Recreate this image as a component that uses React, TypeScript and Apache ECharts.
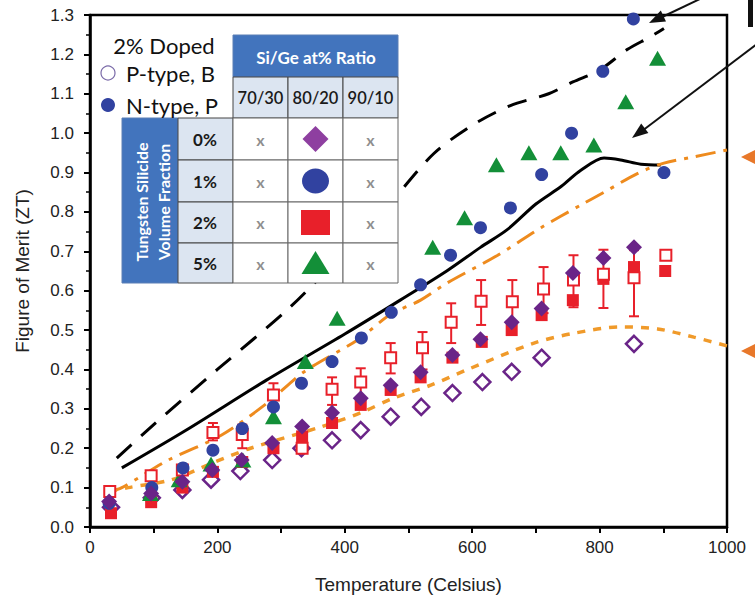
import React, { useEffect, useRef } from "react";
import * as echarts from "echarts";

// ---- data (Temperature in Celsius, ZT) ----
const pB0Temps = [33, 97, 145, 190, 236, 286, 332, 380, 425, 472, 520, 569, 616, 662, 709, 854];
const pB0ZT = [0.05, 0.074, 0.094, 0.12, 0.142, 0.17, 0.2, 0.22, 0.246, 0.28, 0.305, 0.34, 0.368, 0.394, 0.43, 0.465];

const nP0Temps = [30, 96, 145, 192, 238, 286, 333, 380, 425, 472, 519, 569, 613, 662, 709, 758, 806, 854];
const nP0ZT = [0.065, 0.085, 0.115, 0.145, 0.17, 0.213, 0.255, 0.29, 0.327, 0.36, 0.393, 0.437, 0.477, 0.52, 0.555, 0.645, 0.683, 0.71];

const nP1Temps = [30, 97, 146, 193, 239, 288, 332, 380, 426, 473, 519, 566, 613, 660, 709, 756, 805, 853, 901];
const nP1ZT = [0.06, 0.1, 0.15, 0.195, 0.25, 0.305, 0.365, 0.42, 0.48, 0.545, 0.615, 0.69, 0.76, 0.81, 0.895, 1.0, 1.157, 1.29, 0.9];

const pB2Temps = [31, 96, 145, 193, 239, 288, 333, 380, 425, 472, 522, 567, 614, 663, 712, 759, 806, 854, 904];
const pB2ZT = [0.09, 0.13, 0.145, 0.24, 0.235, 0.335, 0.2, 0.35, 0.368, 0.43, 0.455, 0.52, 0.573, 0.572, 0.604, 0.627, 0.642, 0.633, 0.69];
const pB2Low = [null, null, null, 0.22, 0.2, 0.31, null, 0.31, 0.33, 0.39, 0.4, 0.467, 0.513, 0.52, 0.543, 0.558, 0.556, 0.535, null];
const pB2High = [null, null, null, 0.264, 0.26, 0.365, null, 0.38, 0.403, 0.467, 0.495, 0.568, 0.627, 0.627, 0.66, 0.69, 0.704, 0.703, null];

const nP2Temps = [33, 96, 145, 193, 239, 288, 333, 380, 425, 472, 519, 569, 615, 662, 709, 758, 806, 854, 903];
const nP2ZT = [0.035, 0.063, 0.1, 0.14, 0.165, 0.2, 0.23, 0.264, 0.31, 0.348, 0.38, 0.43, 0.47, 0.5, 0.538, 0.576, 0.63, 0.66, 0.65];

const nP5Temps = [95, 140, 190, 240, 288, 338, 388, 538, 588, 638, 689, 739, 791, 841, 891];
const nP5ZT = [0.085, 0.12, 0.16, 0.17, 0.28, 0.42, 0.53, 0.71, 0.785, 0.92, 0.95, 0.95, 0.97, 1.08, 1.19];

const blackDashTemps = [42, 100, 200, 314, 400, 470, 539, 600, 660, 720, 758, 800, 844, 880, 901];
const blackDashZT = [0.175, 0.26, 0.4, 0.558, 0.7, 0.82, 0.947, 1.02, 1.07, 1.1, 1.13, 1.16, 1.213, 1.245, 1.266];

const blackSolidTemps = [50, 150, 277, 400, 487, 560, 613, 655, 700, 740, 770, 807, 833, 865, 896];
const blackSolidZT = [0.15, 0.245, 0.373, 0.49, 0.576, 0.65, 0.71, 0.755, 0.82, 0.865, 0.905, 0.937, 0.932, 0.921, 0.919];

const orangeDashDotTemps = [30, 50, 123, 206, 280, 335, 420, 472, 519, 561, 640, 708, 770, 807, 860, 901, 948, 1000];
const orangeDashDotZT = [0.09, 0.1, 0.17, 0.233, 0.317, 0.393, 0.475, 0.54, 0.576, 0.62, 0.69, 0.76, 0.817, 0.85, 0.898, 0.924, 0.94, 0.957];

const orangeDashTemps = [30, 60, 128, 196, 252, 362, 425, 476, 535, 593, 697, 760, 833, 891, 948, 1000];
const orangeDashZT = [0.09, 0.1, 0.12, 0.165, 0.2, 0.254, 0.29, 0.327, 0.36, 0.4, 0.467, 0.492, 0.508, 0.503, 0.482, 0.46];

const ratioLabels = ["70/30", "80/20", "90/10"];
const fractionLabels = ["0%", "1%", "2%", "5%"];

const PURPLE = "#6A2488";
const BLUE = "#3142A0";
const RED = "#E8202A";
const GREEN = "#138F38";
const ORANGE = "#EE8B1E";
const ORANGE2 = "#F09A2A";
const TABLE_BLUE = "#4274BD";
const TABLE_LIGHT = "#DCE5F1";

const zip = (a: number[], b: (number | null)[]) => a.map((v, i) => [v, b[i]]);

function buildTable(): any[] {
  const els: any[] = [];
  const font = "Lato, 'Open Sans', sans-serif";
  els.push({ type: "rect", shape: { x: 233, y: 35, width: 165, height: 42 }, style: { fill: TABLE_BLUE, stroke: "#5b7fb5", lineWidth: 1 }, z: 100 });
  els.push({ type: "text", x: 316, y: 57, style: { text: "Si/Ge at% Ratio", fill: "#fff", font: `bold 17px ${font}`, align: "center", verticalAlign: "middle" }, z: 101 });
  const colX = [233, 288, 343];
  ratioLabels.forEach((lab, i) => {
    els.push({ type: "rect", shape: { x: colX[i], y: 77, width: 55, height: 41 }, style: { fill: TABLE_LIGHT, stroke: "#444", lineWidth: 1 }, z: 100 });
    els.push({ type: "text", x: colX[i] + 27.5, y: 98, style: { text: lab, fill: "#1a1a1a", font: `600 16.5px ${font}`, align: "center", verticalAlign: "middle" }, z: 101 });
  });
  els.push({ type: "rect", shape: { x: 122, y: 118, width: 56, height: 165 }, style: { fill: TABLE_BLUE, stroke: "#5b7fb5", lineWidth: 1 }, z: 100 });
  els.push({ type: "text", x: 141, y: 202, rotation: Math.PI / 2, style: { text: "Tungsten Silicide", fill: "#fff", font: `bold 16px ${font}`, align: "center", verticalAlign: "middle" }, z: 101 });
  els.push({ type: "text", x: 163, y: 202, rotation: Math.PI / 2, style: { text: "Volume Fraction", fill: "#fff", font: `bold 16px ${font}`, align: "center", verticalAlign: "middle" }, z: 101 });
  const rowY = [118, 160, 202, 243];
  const rowH = [42, 42, 41, 40];
  fractionLabels.forEach((lab, r) => {
    els.push({ type: "rect", shape: { x: 178, y: rowY[r], width: 55, height: rowH[r] }, style: { fill: TABLE_LIGHT, stroke: "#444", lineWidth: 1 }, z: 100 });
    els.push({ type: "text", x: 205, y: rowY[r] + rowH[r] / 2, style: { text: lab, fill: "#1a1a1a", font: `bold 17px ${font}`, align: "center", verticalAlign: "middle" }, z: 101 });
    for (let c = 0; c < 3; c++) {
      els.push({ type: "rect", shape: { x: colX[c], y: rowY[r], width: 55, height: rowH[r] }, style: { fill: "#fff", stroke: "#666", lineWidth: 1 }, z: 100 });
      if (c !== 1) {
        els.push({ type: "text", x: colX[c] + 27.5, y: rowY[r] + rowH[r] / 2, style: { text: "x", fill: "#8f8f8f", font: `bold 16px ${font}`, align: "center", verticalAlign: "middle" }, z: 101 });
      }
    }
  });
  const cx = 315.5;
  const cy = rowY.map((y, i) => y + rowH[i] / 2);
  els.push({ type: "polygon", shape: { points: [[cx, cy[0] - 13], [cx + 13, cy[0]], [cx, cy[0] + 13], [cx - 13, cy[0]]] }, style: { fill: "#8E3FA0" }, z: 102 });
  els.push({ type: "ellipse", shape: { cx, cy: cy[1], rx: 13.5, ry: 12.5 }, style: { fill: BLUE }, z: 102 });
  els.push({ type: "rect", shape: { x: cx - 14.5, y: cy[2] - 12.5, width: 29, height: 25 }, style: { fill: RED }, z: 102 });
  els.push({ type: "polygon", shape: { points: [[cx, cy[3] - 12], [cx + 14, cy[3] + 11], [cx - 14, cy[3] + 11]] }, style: { fill: GREEN }, z: 102 });
  els.push({ type: "text", x: 164, y: 45, style: { text: "2% Doped", fill: "#111", font: `22px ${font}`, align: "center", verticalAlign: "middle" }, z: 101 });
  els.push({ type: "circle", shape: { cx: 108, cy: 73, r: 7 }, style: { fill: "#fff", stroke: "#7a6aa8", lineWidth: 1.2 }, z: 101 });
  els.push({ type: "text", x: 126, y: 73, style: { text: "P-type, B", fill: "#111", font: `22px ${font}`, align: "left", verticalAlign: "middle" }, z: 101 });
  els.push({ type: "circle", shape: { cx: 108, cy: 105, r: 7 }, style: { fill: BLUE }, z: 101 });
  els.push({ type: "text", x: 126, y: 105, style: { text: "N-type, P", fill: "#111", font: `22px ${font}`, align: "left", verticalAlign: "middle" }, z: 101 });
  return els;
}

function buildAnnotations(): any[] {
  const els: any[] = [];
  els.push({ type: "polygon", shape: { points: [[741, 157], [757, 149], [757, 165]] }, style: { fill: "#E8782A" }, z: 50 });
  els.push({ type: "polygon", shape: { points: [[741, 351], [757, 343], [757, 359]] }, style: { fill: "#E8782A" }, z: 50 });
  els.push({ type: "line", shape: { x1: 702, y1: -2, x2: 660, y2: 18 }, style: { stroke: "#111", lineWidth: 2 }, z: 50 });
  els.push({ type: "polygon", shape: { points: [[649, 23], [666, 21.4], [660.8, 10.6]] }, style: { fill: "#111" }, z: 50 });
  els.push({ type: "line", shape: { x1: 757, y1: 44, x2: 642, y2: 131 }, style: { stroke: "#111", lineWidth: 2 }, z: 50 });
  els.push({ type: "polygon", shape: { points: [[632, 138], [648.4, 133.1], [641.2, 123.5]] }, style: { fill: "#111" }, z: 50 });
  els.push({ type: "rect", shape: { x: 748, y: 0, width: 5, height: 27 }, style: { fill: "#111" }, z: 50 });
  return els;
}

export default function App() {
  const ref = useRef<HTMLDivElement>(null);
  useEffect(() => {
    if (!ref.current) return;
    const chart = echarts.init(ref.current, undefined, { renderer: "svg" });
    const axisFont = "'Liberation Sans', Arial, sans-serif";
    const errData = pB2Temps
      .map((t, i) => [t, pB2Low[i], pB2High[i]])
      .filter((d) => d[1] != null);
    const lineSeries = (name: string, t: number[], z: number[], color: string, type: any, width: number, smooth: number) => ({
      name,
      type: "line",
      data: zip(t, z),
      showSymbol: false,
      symbol: "none",
      smooth,
      lineStyle: { color, type, width, cap: "butt" },
      z: 2,
      silent: true,
    });
    chart.setOption({
      animation: false,
      backgroundColor: "#fff",
      grid: { left: 90, right: 28, top: 15, bottom: 82, show: true, borderColor: "#000", borderWidth: 2.5, backgroundColor: "transparent" },
      xAxis: {
        type: "value",
        min: 0,
        max: 1000,
        interval: 100,
        name: "Temperature (Celsius)",
        nameLocation: "middle",
        nameGap: 48,
        nameTextStyle: { fontFamily: axisFont, fontSize: 19, color: "#222" },
        axisLine: { lineStyle: { color: "#000", width: 2.5 } },
        axisTick: { inside: false, length: 6, lineStyle: { color: "#000", width: 2 } },
        axisLabel: { fontFamily: axisFont, fontSize: 17, color: "#222", margin: 12, formatter: (v: number) => (v % 200 === 0 ? String(v) : "") },
        splitLine: { show: false },
      },
      yAxis: {
        type: "value",
        min: 0,
        max: 1.3,
        interval: 0.1,
        name: "Figure of Merit (ZT)",
        nameLocation: "middle",
        nameGap: 58,
        nameTextStyle: { fontFamily: axisFont, fontSize: 19, color: "#222" },
        axisLine: { show: true, lineStyle: { color: "#000", width: 2.5 } },
        axisTick: { inside: false, length: 6, lineStyle: { color: "#000", width: 2 } },
        minorTick: { show: true, splitNumber: 2, length: 4, lineStyle: { color: "#000", width: 1.5 } },
        axisLabel: { fontFamily: axisFont, fontSize: 17, color: "#222", margin: 16, formatter: (v: number) => v.toFixed(1) },
        splitLine: { show: false },
      },
      series: [
        lineSeries("Dashed reference", blackDashTemps, blackDashZT, "#000", [20, 13], 3, 0.3),
        lineSeries("Solid reference", blackSolidTemps, blackSolidZT, "#000", "solid", 3, 0.3),
        lineSeries("Orange dash-dot", orangeDashDotTemps, orangeDashDotZT, ORANGE, [20, 8, 4, 8], 3, 0.3),
        lineSeries("Orange dashed", orangeDashTemps, orangeDashZT, ORANGE2, [8, 8], 3.5, 0.3),
        {
          name: "P-type 2% error",
          type: "custom",
          data: errData,
          encode: { x: 0, y: [1, 2] },
          z: 3,
          silent: true,
          renderItem: (params: any, api: any) => {
            const x = api.value(0);
            const lo = api.coord([x, api.value(1)]);
            const hi = api.coord([x, api.value(2)]);
            const w = 5;
            const st = { stroke: RED, lineWidth: 2 };
            return {
              type: "group",
              children: [
                { type: "line", shape: { x1: lo[0], y1: lo[1], x2: hi[0], y2: hi[1] }, style: st },
                { type: "line", shape: { x1: hi[0] - w, y1: hi[1], x2: hi[0] + w, y2: hi[1] }, style: st },
                { type: "line", shape: { x1: lo[0] - w, y1: lo[1], x2: lo[0] + w, y2: lo[1] }, style: st },
              ],
            };
          },
        },
        { name: "P-type 0%", type: "scatter", data: zip(pB0Temps, pB0ZT), symbol: "diamond", symbolSize: 16, itemStyle: { color: "#fff", borderColor: PURPLE, borderWidth: 2.5, opacity: 1 }, z: 4 },
        { name: "N-type 2%", type: "scatter", data: zip(nP2Temps, nP2ZT), symbol: "rect", symbolSize: 12, itemStyle: { color: RED, opacity: 1 }, z: 5 },
        { name: "P-type 2%", type: "scatter", data: zip(pB2Temps, pB2ZT), symbol: "rect", symbolSize: 11, itemStyle: { color: "#fff", borderColor: RED, borderWidth: 2, opacity: 1 }, z: 6 },
        { name: "N-type 5%", type: "scatter", data: zip(nP5Temps, nP5ZT), symbol: "triangle", symbolSize: [17, 15], itemStyle: { color: GREEN, opacity: 1 }, z: 5 },
        { name: "N-type 1%", type: "scatter", data: zip(nP1Temps, nP1ZT), symbol: "circle", symbolSize: 13, itemStyle: { color: BLUE, opacity: 1 }, z: 6 },
        { name: "N-type 0%", type: "scatter", data: zip(nP0Temps, nP0ZT), symbol: "diamond", symbolSize: 16, itemStyle: { color: PURPLE, opacity: 1 }, z: 7 },
      ],
      graphic: [...buildTable(), ...buildAnnotations()],
    });
    return () => chart.dispose();
  }, []);
  return <div ref={ref} style={{ position: "fixed", left: 0, top: 0, width: 755, height: 609, background: "#fff" }} />;
}
